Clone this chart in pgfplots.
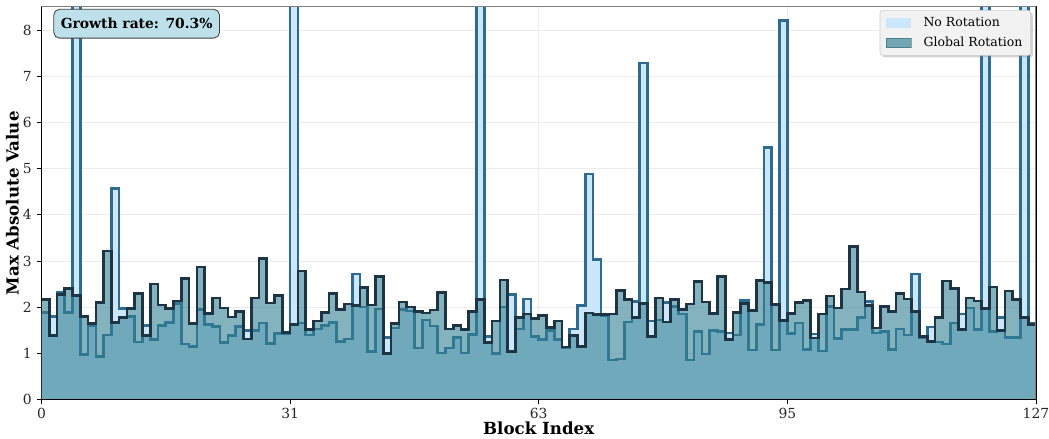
\documentclass[border=0pt]{standalone}
\usepackage{fontspec}
\setmainfont{DejaVu Serif}
\usepackage{pgfplots}
\usepackage{pgfplotstable}
\pgfplotsset{compat=1.18}
\usetikzlibrary{shadows}
\makeatletter
\tikzset{no preactions/.code={\let\tikz@preactions\pgfutil@empty\let\tikz@postactions\pgfutil@empty}}
\makeatother
\definecolor{nofill}{RGB}{205,231,250}
\definecolor{noedge}{RGB}{46,107,145}
\definecolor{gfill}{RGB}{50,128,145}
\definecolor{gedge}{RGB}{28,52,67}
\definecolor{boxfill}{RGB}{189,224,235}
\pgfplotstableread{
x n g
0 1.88 2.17
1 1.80 1.38
2 2.33 2.28
3 1.88 2.40
4 9.50 2.25
5 0.97 1.80
6 1.60 1.65
7 0.93 2.10
8 1.40 3.22
9 4.57 1.67
10 1.97 1.78
11 1.80 1.97
12 1.25 2.30
13 1.60 1.38
14 1.30 2.50
15 1.60 2.05
16 1.67 1.97
17 2.08 2.13
18 1.20 2.62
19 1.15 1.65
20 1.95 2.87
21 1.63 1.86
22 1.58 2.20
23 1.23 1.98
24 1.38 1.79
25 1.58 1.91
26 1.50 1.31
27 1.50 2.20
28 1.66 3.05
29 1.22 2.09
30 1.43 2.25
31 1.42 1.45
32 9.50 1.62
33 1.66 2.78
34 1.40 1.52
35 1.53 1.70
36 1.60 1.89
37 1.67 2.30
38 1.26 1.95
39 1.31 2.07
40 2.72 2.03
41 2.00 2.42
42 1.04 2.05
43 1.96 2.66
44 1.34 1.00
45 1.55 1.64
46 1.95 2.11
47 1.92 2.00
48 1.12 1.90
49 1.72 1.87
50 1.59 1.94
51 1.01 2.32
52 1.12 1.53
53 1.34 1.60
54 1.01 1.52
55 1.41 1.90
56 9.50 2.16
57 1.37 1.23
58 1.00 1.70
59 2.00 2.59
60 2.27 1.04
61 1.53 1.78
62 2.18 1.85
63 1.37 1.75
64 1.30 1.82
65 1.50 1.56
66 1.30 1.70
67 1.13 1.14
68 1.53 1.39
69 2.03 1.15
70 4.88 1.87
71 3.03 1.84
72 1.82 1.84
73 0.86 1.85
74 0.88 2.36
75 1.68 2.17
76 2.12 1.78
77 7.29 2.08
78 1.70 1.36
79 1.72 2.20
80 2.10 1.68
81 2.02 2.17
82 1.85 1.95
83 0.86 2.07
84 1.48 2.55
85 0.99 2.11
86 1.50 1.86
87 1.48 2.66
88 1.44 1.30
89 1.40 1.88
90 2.15 2.08
91 1.07 1.93
92 1.62 2.58
93 5.46 2.54
94 1.07 2.06
95 8.20 1.71
96 1.43 1.86
97 1.66 2.10
98 1.08 2.15
99 1.42 1.33
100 1.05 1.85
101 2.02 2.24
102 1.32 1.98
103 1.51 2.39
104 1.51 3.32
105 1.77 2.33
106 2.12 2.03
107 1.44 1.55
108 1.48 2.02
109 1.09 1.91
110 1.53 2.29
111 1.40 2.18
112 2.72 1.91
113 1.34 1.36
114 1.57 1.26
115 1.25 1.77
116 1.20 2.57
117 1.66 2.41
118 1.85 1.52
119 1.98 2.20
120 1.52 2.13
121 9.50 1.97
122 1.48 2.44
123 1.77 1.50
124 1.34 2.35
125 1.34 2.17
126 9.50 1.78
127 1.65 1.63
128 1.65 1.63
}\data
\begin{document}
\begin{tikzpicture}
\begin{axis}[
  scale only axis,
  width=716.8pt, height=283pt,
  xmin=0, xmax=128, ymin=0, ymax=8.5,
  xtick={0,32,64,96,128},
  xticklabels={0,31,63,95,127},
  ytick={0,1,2,3,4,5,6,7,8},
  tick align=outside,
  tick pos=left,
  major tick length=3.5pt,
  tick style={black, line width=0.6pt},
  axis line style={black, line width=0.8pt},
  grid=major,
  major grid style={gray!15, line width=0.5pt},
  /pgf/number format/assume math mode=true,
  ticklabel style={font=\fontsize{10}{12}\selectfont, text=black!85},
  xticklabel style={yshift=0.5pt},
  xlabel={\textbf{Block Index}},
  ylabel={\textbf{Max Absolute Value}},
  label style={font=\fontsize{12}{14}\selectfont},
  xlabel style={yshift=5pt},
  ylabel style={yshift=-4pt},
  legend style={at={(rel axis cs:0.995,0.992)}, anchor=north east,
    fill=white!95!black, draw=gray!40, rounded corners=2pt,
    drop shadow={opacity=0.35, shadow xshift=1.5pt, shadow yshift=-1.5pt},
    font=\fontsize{9}{11}\selectfont, row sep=2pt, inner xsep=4pt, inner ysep=3pt,
    /tikz/every odd column/.append style={column sep=7pt}},
  legend cell align=left,
  legend image code/.code={\fill[no preactions, sharp corners, #1] (0pt,-3.5pt) rectangle (18pt,3.5pt);},
]
\addlegendimage{fill=nofill, draw=none}
\addlegendentry{No Rotation}
\addlegendimage{fill=gfill, fill opacity=0.65, draw=gfill!70!black, draw opacity=0.5, line width=0.4pt}
\addlegendentry{Global Rotation}
\addplot[const plot mark left, fill=nofill, draw=none, forget plot] table[x=x,y=n] {\data} \closedcycle;
\addplot[const plot mark left, draw=noedge, line width=1.9pt, line join=miter, forget plot] table[x=x,y=n] {\data};
\addplot[const plot mark left, fill=gfill, fill opacity=0.6, draw=none, forget plot] table[x=x,y=g] {\data} \closedcycle;
\addplot[const plot mark left, draw=gedge, line width=1.9pt, line join=miter, forget plot] table[x=x,y=g] {\data};
\draw[gray, line width=0.8pt] (rel axis cs:0,1) -- (rel axis cs:1,1) -- (rel axis cs:1,0);
\draw[black, line width=0.8pt] (rel axis cs:0,1) -- (rel axis cs:0,0) -- (rel axis cs:1,0);
\node[anchor=north west, fill=boxfill, draw=black!75, line width=0.6pt, rounded corners=4pt,
  inner xsep=5pt, inner ysep=6.5pt, font=\fontsize{10}{12}\selectfont\bfseries]
  at (rel axis cs:0.012,0.995) {Growth rate: 70.3\%};
\coordinate (sw) at (rel axis cs:0,0);
\coordinate (ne) at (rel axis cs:1,1);
\end{axis}
\pgfresetboundingbox
\path ([xshift=-29.9pt, yshift=-28.4pt]sw) rectangle ([xshift=9.4pt, yshift=5pt]ne);
\end{tikzpicture}
\end{document}
